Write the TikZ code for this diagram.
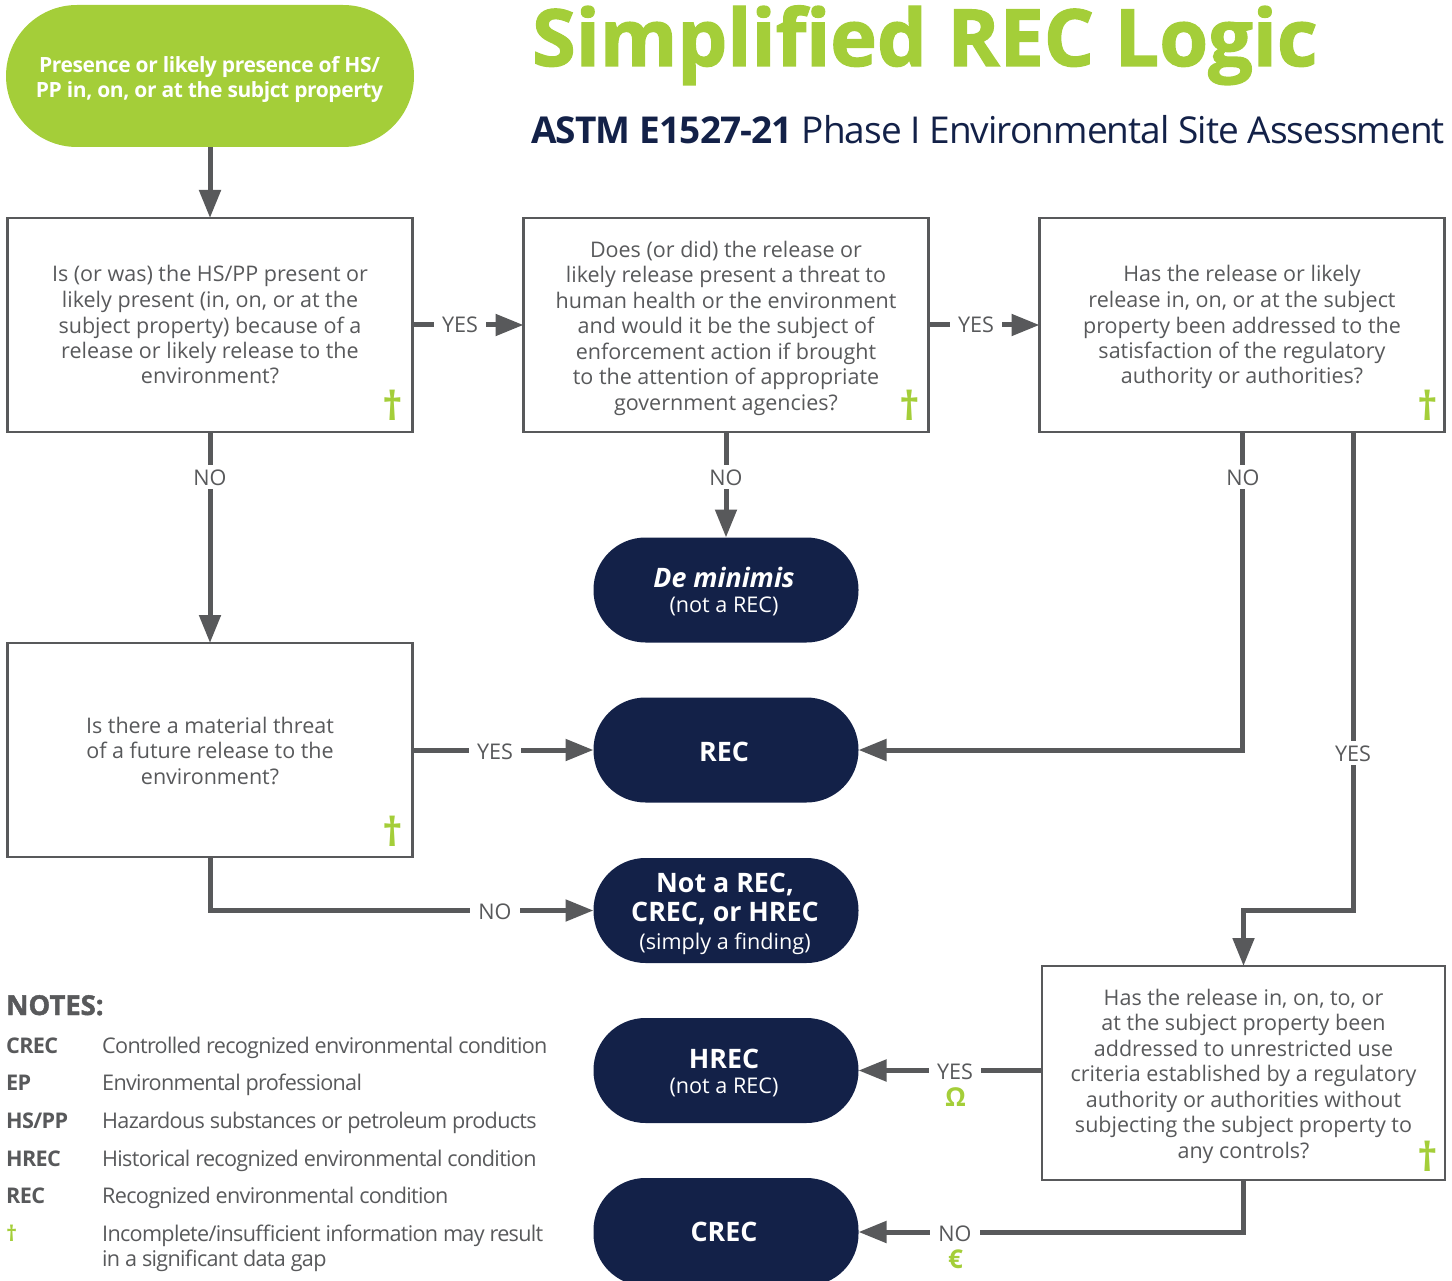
\documentclass[tikz,border=0pt]{standalone}
\usepackage{fontspec}
\setmainfont{Open Sans}
\newfontfamily\heavy[BoldFeatures={FakeBold=1.6}]{Open Sans}
\usetikzlibrary{arrows.meta}
\definecolor{lime}{HTML}{A4CE39}
\definecolor{navy}{HTML}{132148}
\definecolor{ink}{HTML}{58595B}
\newcommand{\fs}[2]{\fontsize{#1}{#2}\selectfont}
\newcommand{\bigb}[1]{{\fontsize{26.8}{27}\selectfont\bfseries #1}}
\tikzset{
  x=1pt,y=-1pt,
  struts/.style n args={3}{execute at begin node={\rule{0pt}{#1pt}},execute at end node={\rule[-#2pt]{0pt}{#2pt}\kern#3pt}},
  qbox/.style={draw=ink,line width=2.8pt,fill=white,text=ink,align=center,minimum width=405pt,minimum height=214pt,inner sep=0pt,outer sep=0pt,font=\fs{21.5}{25.5}},
  pill/.style={fill=navy,text=white,align=center,minimum width=265pt,minimum height=105pt,rounded corners=52pt,inner sep=0pt,outer sep=0pt,font=\fs{21.6}{25}},
  start/.style={fill=lime,text=white,align=center,minimum width=408pt,minimum height=142pt,rounded corners=71pt,inner sep=0pt,outer sep=0pt,font=\fs{21}{25.5}\bfseries\addfontfeature{LetterSpace=-2},struts={50}{6}{1}},
  conn/.style={draw=ink,line width=5pt,-{Triangle[length=28pt,width=21pt]}},
  lab/.style={fill=white,text=ink,inner xsep=8pt,inner ysep=4pt,text height=16pt,text depth=0pt,font=\fs{21.6}{25.5}},
  dag/.style={text=lime,inner sep=0pt,font=\fs{40}{40}\bfseries},
  sym/.style={text=lime,inner sep=0pt,font=\fs{26}{26}\bfseries},
  abbr/.style={text=ink,anchor=base west,inner sep=0pt,font=\fs{21.6}{25.5}\bfseries\addfontfeature{LetterSpace=-3}},
  desc/.style={text=ink,anchor=base west,inner sep=0pt,align=left,font=\fs{21.6}{25.5}\addfontfeature{LetterSpace=-3.2}},
}
\begin{document}
\begin{tikzpicture}
\useasboundingbox (0,0) rectangle (1452,1281);
\clip (0,0) rectangle (1452,1281);
\node[text=lime,anchor=base west,inner sep=0pt,font=\heavy\fs{79}{80}\bfseries] (title) at (532,66) {Simplified REC Logic};
\node[text=navy,anchor=base west,inner sep=0pt,font=\fs{37}{40}\addfontfeature{LetterSpace=-2.55}] (subtitle) at (531,144) {{\bfseries\addfontfeature{LetterSpace=-2.3}ASTM E1527-21} Phase I Environmental Site Assessment};

\node[start] (s) at (210,76) {Presence or likely presence of HS/\\PP in, on, or at the subjct property};

\node[qbox,struts={124}{6}{0}] (q1) at (210,325) {Is (or was) the HS/PP present or\\likely present (in, on, or at the\\subject property) because of a\\release or likely release to the\\environment?};
\node[qbox,struts={176}{6}{0}] (q2) at (726,325) {Does (or did) the release or\\likely release present a threat to\\human health or the environment\\and would it be the subject of\\enforcement action if brought\\to the attention of appropriate\\government agencies?};
\node[qbox,struts={124}{6}{0}] (q3) at (1242,325) {Has the release or likely\\release in, on, or at the subject\\property been addressed to the\\satisfaction of the regulatory\\authority or authorities?};
\node[qbox,struts={74}{6}{0}] (q4) at (210,750) {Is there a material threat\\of a future release to the\\environment?};
\node[qbox,minimum width=403pt,struts={176}{6}{0}] (q5) at (1243.5,1073) {Has the release in, on, to, or\\at the subject property been\\addressed to unrestricted use\\criteria established by a regulatory\\authority or authorities without\\subjecting the subject property to\\any controls?};

\node[dag] (d1) at (393,405) {†};
\node[dag] (d2) at (910,405) {†};
\node[dag] (d3) at (1428,405) {†};
\node[dag] (d4) at (393,831) {†};
\node[dag] (d5) at (1428,1156) {†};

\node[pill,struts={52}{7}{4}] (dm) at (726,590) {{\fontsize{26.8}{27}\selectfont\bfseries\itshape De minimis}\\(not a REC)};
\node[pill,struts={29}{7}{4}] (rec) at (726,750) {\bigb{REC}};
\node[pill,font=\fs{21.6}{28.5},struts={85}{7}{2}] (nrec) at (726,910.5) {\bigb{Not a REC,}\\\bigb{CREC, or HREC}\\(simply a finding)};
\node[pill,struts={53}{7}{4}] (hrec) at (726,1070.5) {\bigb{HREC}\\(not a REC)};
\node[pill,minimum height=108pt,struts={25}{7}{4}] (crec) at (726,1232) {\bigb{CREC}};

\coordinate (q3r) at (1353,432);
\coordinate (bend) at (1353,910);
\coordinate (bend2) at (1243.5,910);
\draw[conn] (s) -- (q1);
\draw[conn] (q1.east) -- (q2.west);
\draw[conn] (q2.east) -- (q3.west);
\draw[conn] (q1.south) -- (q4.north);
\draw[conn] (q2.south) -- (dm.north);
\draw[conn] (q3.south) |- (rec.east);
\draw[conn] (q3r) -- (bend) -- (bend2) -- (q5.north);
\draw[conn] (q4.east) -- (rec.west);
\draw[conn] (q4.south) |- (nrec.west);
\draw[conn] (q5.west |- hrec.east) -- (hrec.east);
\draw[conn] (q5.south) |- (crec.east);

\node[lab] (y1) at (460,325) {YES};
\node[lab] (y2) at (976,325) {YES};
\node[lab,inner xsep=2pt] (n1) at (210,477) {NO};
\node[lab,inner xsep=2pt] (n2) at (726,477) {NO};
\node[lab,inner xsep=2pt] (n3) at (1243,477) {NO};
\node[lab,inner xsep=2pt] (y3) at (1353,753) {YES};
\node[lab] (y4) at (495,751) {YES};
\node[lab] (n4) at (495,911) {NO};
\node[lab] (y5) at (955,1071) {YES};
\node[sym] (om) at (955.5,1097) {Ω};
\node[lab] (n5) at (955,1233) {NO};
\node[sym] (eu) at (955.5,1259) {€};

\node[text=ink,anchor=base west,inner sep=0pt,font=\heavy\fs{27.4}{30}\bfseries] (notes) at (6,1015) {NOTES:};
\node[abbr] (a1) at (6,1053) {CREC};
\node[desc] (b1) at (102,1053) {Controlled recognized environmental condition};
\node[abbr] (a2) at (6,1090) {EP};
\node[desc] (b2) at (102,1090) {Environmental professional};
\node[abbr] (a3) at (6,1128) {HS/PP};
\node[desc] (b3) at (102,1128) {Hazardous substances or petroleum products};
\node[abbr] (a4) at (6,1166) {HREC};
\node[desc] (b4) at (102,1166) {Historical recognized environmental condition};
\node[abbr] (a5) at (6,1203) {REC};
\node[desc] (b5) at (102,1203) {Recognized environmental condition};
\node[abbr,text=lime] (a6) at (6,1241) {†};
\node[desc] (b6) at (102,1241) {Incomplete/insufficient information may result};
\node[desc] (b7) at (102,1266) {in a significant data gap};
\end{tikzpicture}
\end{document}
